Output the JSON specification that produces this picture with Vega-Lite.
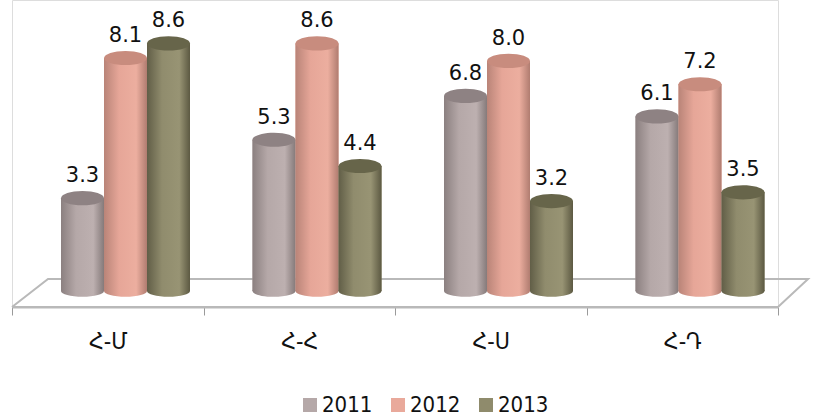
{"$schema":"https://vega.github.io/schema/vega-lite/v6.json","width":766,"height":307,"autosize":"none","padding":{"left":12,"top":0,"right":38,"bottom":112},"background":"white","datasets":{"bars":[{"cat":"Հ-Մ","year":"2011","value":3.3},{"cat":"Հ-Մ","year":"2012","value":8.1},{"cat":"Հ-Մ","year":"2013","value":8.6},{"cat":"Հ-Հ","year":"2011","value":5.3},{"cat":"Հ-Հ","year":"2012","value":8.6},{"cat":"Հ-Հ","year":"2013","value":4.4},{"cat":"Հ-Ս","year":"2011","value":6.8},{"cat":"Հ-Ս","year":"2012","value":8.0},{"cat":"Հ-Ս","year":"2013","value":3.2},{"cat":"Հ-Դ","year":"2011","value":6.1},{"cat":"Հ-Դ","year":"2012","value":7.2},{"cat":"Հ-Դ","year":"2013","value":3.5}],"floor":[{"fx":0,"fy":-0.428,"o":0},{"fx":4,"fy":-0.428,"o":1},{"fx":4.157,"fy":0.53,"o":2},{"fx":0.188,"fy":0.53,"o":3},{"fx":0,"fy":-0.428,"o":4}]},"layer":[{"data":{"name":"floor"},"mark":{"type":"line","color":"#b9b9b9","strokeWidth":2,"clip":false},"encoding":{"x":{"field":"fx","type":"quantitative","scale":{"domain":[0,4]},"axis":null},"y":{"field":"fy","type":"quantitative","scale":{"domain":[-0.428,10.086]},"axis":null},"order":{"field":"o"}}},{"data":{"name":"bars"},"encoding":{"x":{"field":"cat","type":"nominal","sort":null,"scale":{"domain":["Հ-Մ","Հ-Հ","Հ-Ս","Հ-Դ"],"paddingInner":0,"paddingOuter":0},"axis":{"title":null,"orient":"bottom","labelAngle":0,"tickBand":"extent","tickSize":8,"tickColor":"#9a9a9a","domainColor":"#b9b9b9","domainWidth":2,"labelPadding":15,"labelFont":"DejaVu Sans Condensed, DejaVu Sans","labelFontSize":23,"labelColor":"#111111"}},"xOffset":{"field":"year","type":"nominal","scale":{"domain":["2011","2012","2013"],"range":[49,178],"paddingInner":0,"paddingOuter":0}},"y":{"field":"value","type":"quantitative","scale":{"domain":[-0.428,10.086]},"axis":null}},"layer":[{"mark":{"type":"bar","opacity":1},"encoding":{"y2":{"datum":0.12},"color":{"field":"year","type":"nominal","scale":{"domain":["2011","2012","2013"],"range":["#b5a8a8","#e9a99b","#8f8b6c"]},"legend":{"title":null,"orient":"none","legendX":287,"legendY":394,"direction":"horizontal","columns":3,"symbolType":"square","symbolSize":196,"symbolStrokeWidth":0,"columnPadding":14,"labelOffset":1,"labelFont":"DejaVu Sans Condensed, Liberation Sans","labelFontSize":22,"labelColor":"#111111"}}}},{"transform":[{"filter":"datum.year==='2011'"}],"layer":[{"mark":{"type":"point","filled":true,"opacity":1,"size":1849,"shape":"M-1,0A1,0.27,0,1,1,1,0A1,0.27,0,1,1,-1,0Z","color":{"x1":0,"y1":0,"x2":1,"y2":0,"gradient":"linear","stops":[{"offset":0,"color":"#8b8080"},{"offset":0.35,"color":"#b5a8a8"},{"offset":0.75,"color":"#bdb0b0"},{"offset":1,"color":"#857a7a"}]}},"encoding":{"y":{"datum":0.12}}},{"mark":{"type":"bar","color":{"x1":0,"y1":0,"x2":1,"y2":0,"gradient":"linear","stops":[{"offset":0,"color":"#8b8080"},{"offset":0.35,"color":"#b5a8a8"},{"offset":0.75,"color":"#bdb0b0"},{"offset":1,"color":"#857a7a"}]}},"encoding":{"y2":{"datum":0.12}}},{"mark":{"type":"point","filled":true,"opacity":1,"size":1849,"shape":"M-1,0A1,0.33,0,1,1,1,0A1,0.33,0,1,1,-1,0Z","color":"#8e8283"}}]},{"transform":[{"filter":"datum.year==='2012'"}],"layer":[{"mark":{"type":"point","filled":true,"opacity":1,"size":1849,"shape":"M-1,0A1,0.27,0,1,1,1,0A1,0.27,0,1,1,-1,0Z","color":{"x1":0,"y1":0,"x2":1,"y2":0,"gradient":"linear","stops":[{"offset":0,"color":"#b98478"},{"offset":0.35,"color":"#e6a698"},{"offset":0.75,"color":"#ecae9f"},{"offset":1,"color":"#b07c70"}]}},"encoding":{"y":{"datum":0.12}}},{"mark":{"type":"bar","color":{"x1":0,"y1":0,"x2":1,"y2":0,"gradient":"linear","stops":[{"offset":0,"color":"#b98478"},{"offset":0.35,"color":"#e6a698"},{"offset":0.75,"color":"#ecae9f"},{"offset":1,"color":"#b07c70"}]}},"encoding":{"y2":{"datum":0.12}}},{"mark":{"type":"point","filled":true,"opacity":1,"size":1849,"shape":"M-1,0A1,0.33,0,1,1,1,0A1,0.33,0,1,1,-1,0Z","color":"#c88c7e"}}]},{"transform":[{"filter":"datum.year==='2013'"}],"layer":[{"mark":{"type":"point","filled":true,"opacity":1,"size":1849,"shape":"M-1,0A1,0.27,0,1,1,1,0A1,0.27,0,1,1,-1,0Z","color":{"x1":0,"y1":0,"x2":1,"y2":0,"gradient":"linear","stops":[{"offset":0,"color":"#615e47"},{"offset":0.35,"color":"#908c6d"},{"offset":0.75,"color":"#989474"},{"offset":1,"color":"#5c5942"}]}},"encoding":{"y":{"datum":0.12}}},{"mark":{"type":"bar","color":{"x1":0,"y1":0,"x2":1,"y2":0,"gradient":"linear","stops":[{"offset":0,"color":"#615e47"},{"offset":0.35,"color":"#908c6d"},{"offset":0.75,"color":"#989474"},{"offset":1,"color":"#5c5942"}]}},"encoding":{"y2":{"datum":0.12}}},{"mark":{"type":"point","filled":true,"opacity":1,"size":1849,"shape":"M-1,0A1,0.33,0,1,1,1,0A1,0.33,0,1,1,-1,0Z","color":"#67654a"}}]},{"mark":{"type":"text","font":"DejaVu Sans","fontSize":21,"fontWeight":500,"color":"#111111","dy":-22},"encoding":{"text":{"field":"value","type":"quantitative","format":".1f"}}}]}],"resolve":{"scale":{"x":"independent"},"axis":{"x":"independent"}}}
